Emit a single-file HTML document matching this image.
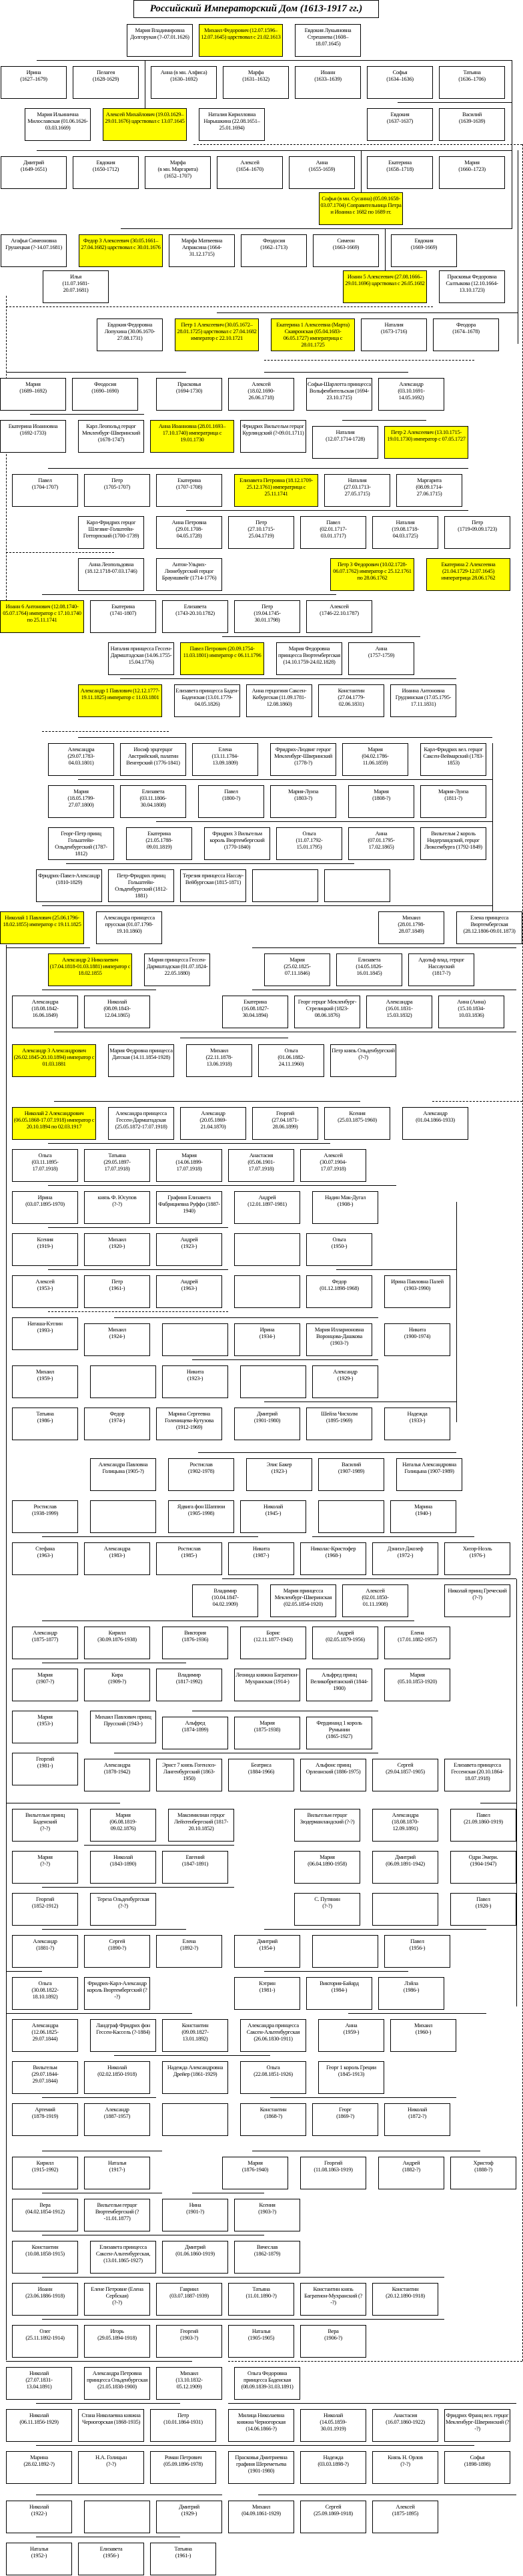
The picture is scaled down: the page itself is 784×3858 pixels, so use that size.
<!DOCTYPE html>
<html><head><meta charset="utf-8">
<style>
html,body{margin:0;padding:0;background:#fff}
body{position:relative;width:784px;height:3858px;overflow:hidden}
.b{position:absolute;width:99px;height:49px;border:1px solid #000;box-sizing:border-box;background:#fff;font:8.5px/10px "Liberation Serif","DejaVu Serif",serif;text-align:center;padding:3px 1px 0;overflow:hidden;letter-spacing:-0.3px;z-index:2}
.y{background:#ff0;width:126px}
.h{position:absolute;height:0;border-top:1px solid #000;z-index:1}
.v{position:absolute;width:0;border-left:1px solid #000;z-index:1}
.hd{position:absolute;height:0;border-top:1px dashed #000;z-index:1}
.vd{position:absolute;width:0;border-left:1px dashed #000;z-index:1}
.t{position:absolute;left:200px;top:0;width:368px;height:27px;border:1px solid #000;box-sizing:border-box;font:italic bold 15px/25px "Liberation Serif",serif;text-align:center}
</style></head><body>
<div class="t">Российский Императорский Дом (1613-1917 гг.)</div>

<!-- long lines -->
<div class="v" style="left:9px;top:1415px;height:2120px"></div>
<div class="vd" style="left:783px;top:216px;height:3320px"></div>
<div class="v" style="left:767px;top:90px;height:253px"></div>
<div class="v" style="left:776px;top:225px;height:290px"></div>
<div class="v" style="left:738px;top:1113px;height:280px"></div>
<div class="v" style="left:774px;top:2365px;height:640px"></div>
<div class="v" style="left:684px;top:1800px;height:330px"></div>
<div class="vd" style="left:9px;top:443px;height:140px"></div>
<div class="vd" style="left:9px;top:660px;height:240px"></div>

<!-- sibling lines -->
<div class="h" style="left:55px;top:90px;width:712px"></div>
<div class="h" style="left:596px;top:153px;width:171px"></div>
<div class="v" style="left:217px;top:90px;height:72px"></div>
<div class="hd" style="left:290px;top:216px;width:493px"></div>
<div class="h" style="left:55px;top:225px;width:712px"></div>
<div class="v" style="left:541px;top:225px;height:63px"></div>
<div class="h" style="left:181px;top:342px;width:586px"></div>
<div class="v" style="left:577px;top:342px;height:63px"></div>
<div class="hd" style="left:9px;top:459px;width:640px"></div>
<div class="h" style="left:325px;top:468px;width:451px"></div>
<div class="h" style="left:9px;top:557px;width:270px"></div>
<div class="h" style="left:396px;top:557px;width:216px"></div>
<div class="h" style="left:45px;top:620px;width:171px"></div>
<div class="h" style="left:513px;top:629px;width:126px"></div>
<div class="hd" style="left:396px;top:539px;width:315px"></div>
<div class="h" style="left:72px;top:701px;width:630px"></div>
<div class="h" style="left:279px;top:764px;width:423px"></div>
<div class="hd" style="left:9px;top:827px;width:162px"></div>
<div class="h" style="left:63px;top:890px;width:441px"></div>
<div class="h" style="left:333px;top:953px;width:297px"></div>
<div class="h" style="left:180px;top:1016px;width:504px"></div>
<div class="h" style="left:117px;top:1104px;width:621px"></div>
<div class="hd" style="left:63px;top:1095px;width:190px"></div>
<div class="h" style="left:117px;top:1167px;width:621px"></div>
<div class="h" style="left:234px;top:1230px;width:504px"></div>
<div class="h" style="left:99px;top:1293px;width:432px"></div>
<div class="h" style="left:63px;top:1356px;width:675px"></div>
<div class="h" style="left:9px;top:1419px;width:126px"></div>
<div class="h" style="left:378px;top:1419px;width:396px"></div>
<div class="h" style="left:63px;top:1482px;width:171px"></div>
<div class="h" style="left:378px;top:1482px;width:396px"></div>
<div class="h" style="left:81px;top:1545px;width:693px"></div>
<div class="h" style="left:270px;top:1554px;width:162px"></div>
<div class="h" style="left:81px;top:1649px;width:459px"></div>
<div class="hd" style="left:648px;top:1649px;width:135px"></div>
<div class="h" style="left:72px;top:1712px;width:423px"></div>
<div class="h" style="left:72px;top:1775px;width:522px"></div>
<div class="h" style="left:72px;top:1838px;width:270px"></div>
<div class="h" style="left:72px;top:1901px;width:270px"></div>
<div class="h" style="left:504px;top:1901px;width:180px"></div>
<div class="hd" style="left:72px;top:1964px;width:270px"></div>
<div class="h" style="left:171px;top:1973px;width:396px"></div>
<div class="h" style="left:288px;top:2036px;width:279px"></div>
<div class="h" style="left:396px;top:2099px;width:288px"></div>
<div class="h" style="left:297px;top:2175px;width:387px"></div>
<div class="h" style="left:63px;top:2301px;width:324px"></div>
<div class="h" style="left:468px;top:2301px;width:243px"></div>
<div class="h" style="left:333px;top:2364px;width:441px"></div>
<div class="h" style="left:63px;top:2427px;width:558px"></div>
<div class="h" style="left:63px;top:2490px;width:216px"></div>
<div class="h" style="left:288px;top:2562px;width:279px"></div>
<div class="h" style="left:171px;top:2625px;width:396px"></div>
<div class="h" style="left:9px;top:2700px;width:171px"></div>
<div class="h" style="left:720px;top:2700px;width:54px"></div>
<div class="h" style="left:126px;top:2763px;width:225px"></div>
<div class="h" style="left:63px;top:2826px;width:288px"></div>
<div class="h" style="left:63px;top:2889px;width:216px"></div>
<div class="h" style="left:396px;top:2889px;width:333px"></div>
<div class="h" style="left:9px;top:2952px;width:54px"></div>
<div class="h" style="left:396px;top:2952px;width:216px"></div>
<div class="h" style="left:9px;top:3015px;width:279px"></div>
<div class="h" style="left:522px;top:3015px;width:207px"></div>
<div class="h" style="left:171px;top:3078px;width:234px"></div>
<div class="h" style="left:63px;top:3141px;width:171px"></div>
<div class="h" style="left:405px;top:3141px;width:279px"></div>
<div class="h" style="left:63px;top:3221px;width:180px"></div>
<div class="h" style="left:378px;top:3221px;width:342px"></div>
<div class="h" style="left:63px;top:3284px;width:180px"></div>
<div class="h" style="left:288px;top:3284px;width:108px"></div>
<div class="h" style="left:63px;top:3347px;width:333px"></div>
<div class="h" style="left:63px;top:3410px;width:603px"></div>
<div class="h" style="left:63px;top:3473px;width:603px"></div>
<div class="h" style="left:9px;top:3536px;width:279px"></div>
<div class="hd" style="left:342px;top:3536px;width:441px"></div>
<div class="h" style="left:54px;top:3599px;width:216px"></div>
<div class="h" style="left:342px;top:3599px;width:432px"></div>
<div class="h" style="left:54px;top:3662px;width:657px"></div>
<div class="h" style="left:54px;top:3736px;width:279px"></div>
<div class="h" style="left:387px;top:3736px;width:387px"></div>
<div class="h" style="left:54px;top:3799px;width:216px"></div>

<!-- boxes -->
<div class="b" style="left:190px;top:36px">Мария Владимировна Долгорукая (?–07.01.1626)</div>
<div class="b y" style="left:298px;top:36px">Михаил Федорович (12.07.1596–12.07.1645) царствовал с 21.02.1613</div>
<div class="b" style="left:442px;top:36px">Евдокия Лукьяновна Стрешнева (1608–18.07.1645)</div>

<div class="b" style="left:1px;top:99px">Ирина<br>(1627–1679)</div>
<div class="b" style="left:109px;top:99px">Пелагея<br>(1628-1629)</div>
<div class="b" style="left:226px;top:99px">Анна (в мн. Алфиса)<br>(1630–1692)</div>
<div class="b" style="left:334px;top:99px">Марфа<br>(1631–1632)</div>
<div class="b" style="left:442px;top:99px">Иоанн<br>(1633–1639)</div>
<div class="b" style="left:550px;top:99px">Софья<br>(1634–1636)</div>
<div class="b" style="left:658px;top:99px">Татьяна<br>(1636–1706)</div>

<div class="b" style="left:37px;top:162px">Мария Ильинична Милославская (01.06.1626-03.03.1669)</div>
<div class="b y" style="left:154px;top:162px">Алексей Михайлович (19.03.1629–29.01.1676) царствовал с 13.07.1645</div>
<div class="b" style="left:298px;top:162px">Наталия Кирилловна Нарышкина (22.08.1651–25.01.1694)</div>
<div class="b" style="left:550px;top:162px">Евдокия<br>(1637-1637)</div>
<div class="b" style="left:658px;top:162px">Василий<br>(1639-1639)</div>

<div class="b" style="left:1px;top:234px">Дмитрий<br>(1649-1651)</div>
<div class="b" style="left:109px;top:234px">Евдокия<br>(1650-1712)</div>
<div class="b" style="left:217px;top:234px">Марфа<br>(в мн. Маргарита)<br>(1652–1707)</div>
<div class="b" style="left:325px;top:234px">Алексей<br>(1654–1670)</div>
<div class="b" style="left:433px;top:234px">Анна<br>(1655-1659)</div>
<div class="b" style="left:550px;top:234px">Екатерина<br>(1658–1718)</div>
<div class="b" style="left:658px;top:234px">Мария<br>(1660–1723)</div>

<div class="b y" style="left:478px;top:288px">Софья (в мн. Сусанна) (05.09.1658-03.07.1704) Соправительница Петра и Иоанна с 1682 по 1689 гг.</div>

<div class="b" style="left:1px;top:351px">Агафья Симеоновна Грушецкая (?-14.07.1681)</div>
<div class="b y" style="left:118px;top:351px">Федор 3 Алексеевич (30.05.1661–27.04.1682) царствовал с 30.01.1676</div>
<div class="b" style="left:253px;top:351px">Марфа Матвеевна Апраксина (1664-31.12.1715)</div>
<div class="b" style="left:361px;top:351px">Феодосия<br>(1662–1713)</div>
<div class="b" style="left:469px;top:351px">Симеон<br>(1663-1669)</div>
<div class="b" style="left:586px;top:351px">Евдокия<br>(1669-1669)</div>

<div class="b" style="left:64px;top:405px">Илья<br>(11.07.1681-<br>20.07.1681)</div>
<div class="b y" style="left:514px;top:405px">Иоанн 5 Алексеевич (27.08.1666–29.01.1696) царствовал с 26.05.1682</div>
<div class="b" style="left:658px;top:405px">Прасковья Федоровна Салтыкова (12.10.1664-13.10.1723)</div>

<div class="b" style="left:145px;top:477px">Евдокия Федоровна Лопухина (30.06.1670-27.08.1731)</div>
<div class="b y" style="left:262px;top:477px">Петр 1 Алексеевич (30.05.1672–28.01.1725) царствовал с 27.04.1682 император с 22.10.1721</div>
<div class="b y" style="left:406px;top:477px">Екатерина 1 Алексеевна (Марта) Скавронская (05.04.1683-06.05.1727) императрица с 28.01.1725</div>
<div class="b" style="left:541px;top:477px">Наталия<br>(1673-1716)</div>
<div class="b" style="left:649px;top:477px">Феодора<br>(1674–1678)</div>

<div class="b" style="left:0px;top:566px">Мария<br>(1689–1692)</div>
<div class="b" style="left:108px;top:566px">Феодосия<br>(1690–1690)</div>
<div class="b" style="left:234px;top:566px">Прасковья<br>(1694-1730)</div>
<div class="b" style="left:342px;top:566px">Алексей<br>(18.02.1690-<br>26.06.1718)</div>
<div class="b" style="left:459px;top:566px">Софья-Шарлотта принцесса Вольфенбительская (1694-23.10.1715)</div>
<div class="b" style="left:567px;top:566px">Александр<br>(03.10.1691-<br>14.05.1692)</div>

<div class="b" style="left:0px;top:629px">Екатерина Иоанновна<br>(1692-1733)</div>
<div class="b" style="left:117px;top:629px">Карл Леопольд герцог Мекленбург-Шверинский (1678-1747)</div>
<div class="b y" style="left:225px;top:629px">Анна Иоанновна (28.01.1693–17.10.1740) императрица с 19.01.1730</div>
<div class="b" style="left:360px;top:629px">Фридрих Вильгельм герцог Курляндский (?-09.01.1711)</div>
<div class="b" style="left:468px;top:638px">Наталия<br>(12.07.1714-1728)</div>
<div class="b y" style="left:576px;top:638px">Петр 2 Алексеевич (13.10.1715-19.01.1730) император с 07.05.1727</div>

<div class="b" style="left:18px;top:710px">Павел<br>(1704-1707)</div>
<div class="b" style="left:126px;top:710px">Петр<br>(1705-1707)</div>
<div class="b" style="left:234px;top:710px">Екатерина<br>(1707-1708)</div>
<div class="b y" style="left:351px;top:710px">Елизавета Петровна (18.12.1709-25.12.1761) императрица с 25.11.1741</div>
<div class="b" style="left:486px;top:710px">Наталия<br>(27.03.1713-<br>27.05.1715)</div>
<div class="b" style="left:594px;top:710px">Маргарита<br>(08.09.1714-<br>27.06.1715)</div>

<div class="b" style="left:117px;top:773px">Карл-Фридрих герцог Шлезвиг-Голштейн-Готторпский (1700-1739)</div>
<div class="b" style="left:234px;top:773px">Анна Петровна<br>(29.01.1708-<br>04.05.1728)</div>
<div class="b" style="left:342px;top:773px">Петр<br>(27.10.1715-<br>25.04.1719)</div>
<div class="b" style="left:450px;top:773px">Павел<br>(02.01.1717-<br>03.01.1717)</div>
<div class="b" style="left:558px;top:773px">Наталия<br>(19.08.1718-<br>04.03.1725)</div>
<div class="b" style="left:666px;top:773px">Петр<br>(1719-09.09.1723)</div>

<div class="b" style="left:117px;top:836px">Анна Леопольдовна (18.12.1718-07.03.1746)</div>
<div class="b" style="left:234px;top:836px">Антон-Ульрих-Люнебургский герцог Брауншвейг (1714-1776)</div>
<div class="b y" style="left:495px;top:836px">Петр 3 Федорович (10.02.1728-06.07.1762) император с 25.12.1761 по 28.06.1762</div>
<div class="b y" style="left:639px;top:836px">Екатерина 2 Алексеевна (21.04.1729-12.07.1645) императрица 28.06.1762</div>

<div class="b y" style="left:0px;top:899px">Иоанн 6 Антонович (12.08.1740-05.07.1764) император с 17.10.1740 по 25.11.1741</div>
<div class="b" style="left:135px;top:899px">Екатерина<br>(1741-1807)</div>
<div class="b" style="left:243px;top:899px">Елизавета<br>(1743-20.10.1782)</div>
<div class="b" style="left:351px;top:899px">Петр<br>(19.04.1745-<br>30.01.1798)</div>
<div class="b" style="left:459px;top:899px">Алексей<br>(1746-22.10.1787)</div>

<div class="b" style="left:162px;top:962px">Наталия принцесса Гессен-Дармштадская (14.06.1755-15.04.1776)</div>
<div class="b y" style="left:270px;top:962px">Павел Петрович (20.09.1754-11.03.1801) император с 06.11.1796</div>
<div class="b" style="left:414px;top:962px">Мария Федоровна принцесса Вюртембергская (14.10.1759-24.02.1828)</div>
<div class="b" style="left:522px;top:962px">Анна<br>(1757-1759)</div>

<div class="b y" style="left:117px;top:1025px">Александр 1 Павлович (12.12.1777-19.11.1825) император с 11.03.1801</div>
<div class="b" style="left:261px;top:1025px">Елизавета принцесса Баден-Баденская (13.01.1779-04.05.1826)</div>
<div class="b" style="left:369px;top:1025px">Анна герцогиня Саксен-Кобургская (11.09.1781-12.08.1860)</div>
<div class="b" style="left:477px;top:1025px">Константин<br>(27.04.1779-<br>02.06.1831)</div>
<div class="b" style="left:585px;top:1025px">Иоанна Антоновна Грудзинская (17.05.1795-17.11.1831)</div>

<div class="b" style="left:72px;top:1113px">Александра<br>(29.07.1783-<br>04.03.1801)</div>
<div class="b" style="left:180px;top:1113px">Иосиф эрцгерцог Австрийский, палатин Венгерский (1776-1841)</div>
<div class="b" style="left:288px;top:1113px">Елена<br>(13.11.1784-<br>13.09.1809)</div>
<div class="b" style="left:405px;top:1113px">Фридрих-Людвиг герцог Мекленбург-Шверинский (1778-?)</div>
<div class="b" style="left:513px;top:1113px">Мария<br>(04.02.1786-<br>11.06.1859)</div>
<div class="b" style="left:630px;top:1113px">Карл-Фридрих вел. герцог Саксен-Веймарский (1783-1853)</div>

<div class="b" style="left:72px;top:1176px">Мария<br>(18.05.1799-<br>27.07.1800)</div>
<div class="b" style="left:180px;top:1176px">Елизавета<br>(03.11.1806-<br>30.04.1808)</div>
<div class="b" style="left:297px;top:1176px">Павел<br>(1800-?)</div>
<div class="b" style="left:405px;top:1176px">Мария-Луиза<br>(1803-?)</div>
<div class="b" style="left:522px;top:1176px">Мария<br>(1808-?)</div>
<div class="b" style="left:630px;top:1176px">Мария-Луиза<br>(1811-?)</div>

<div class="b" style="left:72px;top:1239px">Георг-Петр принц Гольштейн-Ольденбургский (1787-1812)</div>
<div class="b" style="left:189px;top:1239px">Екатерина<br>(21.05.1788-<br>09.01.1819)</div>
<div class="b" style="left:306px;top:1239px">Фридрих 3 Вильгельм король Вюртембергский (1770-1840)</div>
<div class="b" style="left:414px;top:1239px">Ольга<br>(11.07.1792-<br>15.01.1795)</div>
<div class="b" style="left:522px;top:1239px">Анна<br>(07.01.1795-<br>17.02.1865)</div>
<div class="b" style="left:630px;top:1239px">Вильгельм 2 король Нидерландский, герцог Люксембурга (1792-1849)</div>

<div class="b" style="left:54px;top:1302px">Фридрих-Павел-Александр<br>(1810-1829)</div>
<div class="b" style="left:162px;top:1302px">Петр-Фридрих принц Гольштейн-Ольденбургский (1812-1881)</div>
<div class="b" style="left:270px;top:1302px">Терезия принцесса Нассау-Вейбургская (1815-1871)</div>
<div class="b" style="left:378px;top:1302px"></div>
<div class="b" style="left:486px;top:1302px"></div>

<div class="b y" style="left:0px;top:1365px">Николай 1 Павлович (25.06.1796-18.02.1855) император с 19.11.1825</div>
<div class="b" style="left:144px;top:1365px">Александра принцесса прусская (01.07.1798-19.10.1860)</div>
<div class="b" style="left:567px;top:1365px">Михаил<br>(28.01.1798-<br>28.07.1849)</div>
<div class="b" style="left:684px;top:1365px">Елена принцесса Вюртембергская (28.12.1806-09.01.1873)</div>

<div class="b y" style="left:72px;top:1428px">Александр 2 Николаевич (17.04.1818-01.03.1881) император с 18.02.1855</div>
<div class="b" style="left:216px;top:1428px">Мария принцесса Гессен-Дармштадская (01.07.1824-22.05.1880)</div>
<div class="b" style="left:396px;top:1428px">Мария<br>(25.02.1825-<br>07.11.1846)</div>
<div class="b" style="left:504px;top:1428px">Елизавета<br>(14.05.1826-<br>16.01.1845)</div>
<div class="b" style="left:612px;top:1428px">Адольф влад. герцог Нассауский<br>(1817-?)</div>

<div class="b" style="left:18px;top:1491px">Александра<br>(18.08.1842-<br>16.06.1849)</div>
<div class="b" style="left:126px;top:1491px">Николай<br>(08.09.1843-<br>12.04.1865)</div>
<div class="b" style="left:333px;top:1491px">Екатерина<br>(16.08.1827-<br>30.04.1894)</div>
<div class="b" style="left:441px;top:1491px">Георг герцог Мекленбург-Стрелицкий (1823-08.06.1876)</div>
<div class="b" style="left:549px;top:1491px">Александра<br>(16.01.1831-<br>15.03.1832)</div>
<div class="b" style="left:657px;top:1491px">Анна (Анна)<br>(15.10.1834-<br>10.03.1836)</div>

<div class="b y" style="left:18px;top:1564px">Александр 3 Александрович (26.02.1845-20.10.1894) император с 01.03.1881</div>
<div class="b" style="left:162px;top:1564px">Мария Федровна принцесса Датская (14.11.1854-1928)</div>
<div class="b" style="left:279px;top:1564px">Михаил<br>(22.11.1878-<br>13.06.1918)</div>
<div class="b" style="left:387px;top:1564px">Ольга<br>(01.06.1882-<br>24.11.1960)</div>
<div class="b" style="left:495px;top:1564px">Петр князь Ольденбургский<br>(?-?)</div>

<div class="b y" style="left:18px;top:1658px">Николай 2 Александрович (06.05.1868-17.07.1918) император с 20.10.1894 по 02.03.1917</div>
<div class="b" style="left:162px;top:1658px">Александра принцесса Гессен-Дармштадская (25.05.1872-17.07.1918)</div>
<div class="b" style="left:270px;top:1658px">Александр<br>(20.05.1869-<br>21.04.1870)</div>
<div class="b" style="left:378px;top:1658px">Георгий<br>(27.04.1871-<br>28.06.1899)</div>
<div class="b" style="left:486px;top:1658px">Ксения<br>(25.03.1875-1960)</div>
<div class="b" style="left:603px;top:1658px">Александр<br>(01.04.1866-1933)</div>

<div class="b" style="left:18px;top:1721px">Ольга<br>(03.11.1895-<br>17.07.1918)</div>
<div class="b" style="left:126px;top:1721px">Татьяна<br>(29.05.1897-<br>17.07.1918)</div>
<div class="b" style="left:234px;top:1721px">Мария<br>(14.06.1899-<br>17.07.1918)</div>
<div class="b" style="left:342px;top:1721px">Анастасия<br>(05.06.1901-<br>17.07.1918)</div>
<div class="b" style="left:450px;top:1721px">Алексей<br>(30.07.1904-<br>17.07.1918)</div>

<div class="b" style="left:18px;top:1784px">Ирина<br>(03.07.1895-1970)</div>
<div class="b" style="left:126px;top:1784px">князь Ф. Юсупов<br>(?-?)</div>
<div class="b" style="left:234px;top:1784px">Графиня Елизавета Фабрициевна Руффо (1887-1940)</div>
<div class="b" style="left:351px;top:1784px">Андрей<br>(12.01.1897-1981)</div>
<div class="b" style="left:468px;top:1784px">Надин Мак-Дугал<br>(1908-)</div>

<div class="b" style="left:18px;top:1847px">Ксения<br>(1919-)</div>
<div class="b" style="left:126px;top:1847px">Михаил<br>(1920-)</div>
<div class="b" style="left:234px;top:1847px">Андрей<br>(1923-)</div>
<div class="b" style="left:351px;top:1847px"></div>
<div class="b" style="left:459px;top:1847px">Ольга<br>(1950-)</div>

<div class="b" style="left:18px;top:1910px">Алексей<br>(1953-)</div>
<div class="b" style="left:126px;top:1910px">Петр<br>(1961-)</div>
<div class="b" style="left:234px;top:1910px">Андрей<br>(1963-)</div>
<div class="b" style="left:351px;top:1910px"></div>
<div class="b" style="left:459px;top:1910px">Федор<br>(01.12.1898-1968)</div>
<div class="b" style="left:576px;top:1910px">Ирина Павловна Палей<br>(1903-1990)</div>

<div class="b" style="left:18px;top:1973px">Наташа-Кэтлин<br>(1993-)</div>
<div class="b" style="left:126px;top:1982px">Михаил<br>(1924-)</div>
<div class="b" style="left:243px;top:1982px"></div>
<div class="b" style="left:351px;top:1982px">Ирина<br>(1934-)</div>
<div class="b" style="left:459px;top:1982px">Мария Илларионовна Воронцова-Дашкова (1903-?)</div>
<div class="b" style="left:576px;top:1982px">Никита<br>(1900-1974)</div>

<div class="b" style="left:18px;top:2045px">Михаил<br>(1959-)</div>
<div class="b" style="left:135px;top:2045px"></div>
<div class="b" style="left:243px;top:2045px">Никита<br>(1923-)</div>
<div class="b" style="left:360px;top:2045px"></div>
<div class="b" style="left:468px;top:2045px">Александр<br>(1929-)</div>

<div class="b" style="left:18px;top:2108px">Татьяна<br>(1986-)</div>
<div class="b" style="left:126px;top:2108px">Федор<br>(1974-)</div>
<div class="b" style="left:234px;top:2108px">Марина Сергеевна Голенищева-Кутузова (1912-1969)</div>
<div class="b" style="left:351px;top:2108px">Дмитрий<br>(1901-1980)</div>
<div class="b" style="left:459px;top:2108px">Шейла Чисхолм<br>(1895-1969)</div>
<div class="b" style="left:576px;top:2108px">Надежда<br>(1933-)</div>

<div class="b" style="left:135px;top:2184px">Александра Павловна Голицына (1905-?)</div>
<div class="b" style="left:252px;top:2184px">Ростислав<br>(1902-1978)</div>
<div class="b" style="left:369px;top:2184px">Элис Бакер<br>(1923-)</div>
<div class="b" style="left:477px;top:2184px">Василий<br>(1907-1989)</div>
<div class="b" style="left:594px;top:2184px">Наталья Александровна Голицына (1907-1989)</div>

<div class="b" style="left:18px;top:2247px">Ростислав<br>(1938-1999)</div>
<div class="b" style="left:135px;top:2247px"></div>
<div class="b" style="left:252px;top:2247px">Ядвига фон Шаппюи<br>(1905-1998)</div>
<div class="b" style="left:360px;top:2247px">Николай<br>(1945-)</div>
<div class="b" style="left:477px;top:2247px"></div>
<div class="b" style="left:585px;top:2247px">Марина<br>(1940-)</div>

<div class="b" style="left:18px;top:2310px">Стефана<br>(1963-)</div>
<div class="b" style="left:126px;top:2310px">Александра<br>(1983-)</div>
<div class="b" style="left:234px;top:2310px">Ростислав<br>(1985-)</div>
<div class="b" style="left:342px;top:2310px">Никита<br>(1987-)</div>
<div class="b" style="left:450px;top:2310px">Николас-Кристофер<br>(1968-)</div>
<div class="b" style="left:558px;top:2310px">Дэниэл-Джозеф<br>(1972-)</div>
<div class="b" style="left:666px;top:2310px">Хизэр-Ноэль<br>(1976-)</div>

<div class="b" style="left:288px;top:2373px">Владимир<br>(10.04.1847-<br>04.02.1909)</div>
<div class="b" style="left:405px;top:2373px">Мария принцесса Мекленбург-Шверинская (02.05.1854-1920)</div>
<div class="b" style="left:513px;top:2373px">Алексей<br>(02.01.1850-<br>01.11.1908)</div>
<div class="b" style="left:666px;top:2373px">Николай принц Греческий<br>(?-?)</div>

<div class="b" style="left:18px;top:2436px">Александр<br>(1875-1877)</div>
<div class="b" style="left:126px;top:2436px">Кирилл<br>(30.09.1876-1938)</div>
<div class="b" style="left:243px;top:2436px">Виктория<br>(1876-1936)</div>
<div class="b" style="left:360px;top:2436px">Борис<br>(12.11.1877-1943)</div>
<div class="b" style="left:468px;top:2436px">Андрей<br>(02.05.1879-1956)</div>
<div class="b" style="left:576px;top:2436px">Елена<br>(17.01.1882-1957)</div>

<div class="b" style="left:18px;top:2499px">Мария<br>(1907-?)</div>
<div class="b" style="left:126px;top:2499px">Кира<br>(1909-?)</div>
<div class="b" style="left:234px;top:2499px">Владимир<br>(1817-1992)</div>
<div class="b" style="left:351px;top:2499px">Леонида княжна Багратион-Мухранская (1914-)</div>
<div class="b" style="left:459px;top:2499px">Альфред принц Великобританский (1844-1900)</div>
<div class="b" style="left:576px;top:2499px">Мария<br>(05.10.1853-1920)</div>

<div class="b" style="left:18px;top:2562px">Мария<br>(1953-)</div>
<div class="b" style="left:135px;top:2562px">Михаил Павлович принц Прусский (1943-)</div>
<div class="b" style="left:243px;top:2571px">Альфред<br>(1874-1899)</div>
<div class="b" style="left:351px;top:2571px">Мария<br>(1875-1938)</div>
<div class="b" style="left:459px;top:2571px">Фердинанд 1 король Румынии<br>(1865-1927)</div>

<div class="b" style="left:18px;top:2625px">Георгий<br>(1981-)</div>
<div class="b" style="left:126px;top:2634px">Александра<br>(1878-1942)</div>
<div class="b" style="left:234px;top:2634px">Эрнст 7 князь Гогенлоэ-Лангенбургский (1863-1950)</div>
<div class="b" style="left:342px;top:2634px">Беатриса<br>(1884-1966)</div>
<div class="b" style="left:450px;top:2634px">Альфонс принц Орлеанский (1886-1975)</div>
<div class="b" style="left:558px;top:2634px">Сергей<br>(29.04.1857-1905)</div>
<div class="b" style="left:666px;top:2634px">Елизавета принцесса Гессенская (20.10.1864-18.07.1918)</div>

<div class="b" style="left:18px;top:2709px">Вильгельм принц Баденский<br>(?-?)</div>
<div class="b" style="left:135px;top:2709px">Мария<br>(06.08.1819-<br>09.02.1876)</div>
<div class="b" style="left:252px;top:2709px">Максимилиан герцог Лейхтенбергский (1817-20.10.1852)</div>
<div class="b" style="left:441px;top:2709px">Вильгельм герцог Зюдерманландский (?-?)</div>
<div class="b" style="left:558px;top:2709px">Александра<br>(18.08.1870-<br>12.09.1891)</div>
<div class="b" style="left:675px;top:2709px">Павел<br>(21.09.1860-1919)</div>

<div class="b" style="left:18px;top:2772px">Мария<br>(?-?)</div>
<div class="b" style="left:135px;top:2772px">Николай<br>(1843-1890)</div>
<div class="b" style="left:243px;top:2772px">Евгений<br>(1847-1891)</div>
<div class="b" style="left:441px;top:2772px">Мария<br>(06.04.1890-1958)</div>
<div class="b" style="left:558px;top:2772px">Дмитрий<br>(06.09.1891-1942)</div>
<div class="b" style="left:675px;top:2772px">Одри Эмери.<br>(1904-1947)</div>

<div class="b" style="left:18px;top:2835px">Георгий<br>(1852-1912)</div>
<div class="b" style="left:135px;top:2835px">Тереза Ольденбургская<br>(?-?)</div>
<div class="b" style="left:441px;top:2835px">С. Путянин<br>(?-?)</div>
<div class="b" style="left:558px;top:2835px"></div>
<div class="b" style="left:675px;top:2835px">Павел<br>(1928-)</div>

<div class="b" style="left:18px;top:2898px">Александр<br>(1881-?)</div>
<div class="b" style="left:126px;top:2898px">Сергей<br>(1890-?)</div>
<div class="b" style="left:234px;top:2898px">Елена<br>(1892-?)</div>
<div class="b" style="left:351px;top:2898px">Дмитрий<br>(1954-)</div>
<div class="b" style="left:468px;top:2898px"></div>
<div class="b" style="left:576px;top:2898px">Павел<br>(1956-)</div>

<div class="b" style="left:18px;top:2961px">Ольга<br>(30.08.1822-<br>18.10.1892)</div>
<div class="b" style="left:126px;top:2961px">Фридрих-Карл-Александр король Вюртембергский (?-?)</div>
<div class="b" style="left:351px;top:2961px">Кэтрин<br>(1981-)</div>
<div class="b" style="left:459px;top:2961px">Виктория-Байард<br>(1984-)</div>
<div class="b" style="left:567px;top:2961px">Лэйла<br>(1986-)</div>

<div class="b" style="left:18px;top:3024px">Александра<br>(12.06.1825-<br>29.07.1844)</div>
<div class="b" style="left:135px;top:3024px">Ландграф Фридрих фон Гессен-Кассель (?-1884)</div>
<div class="b" style="left:243px;top:3024px">Константин<br>(09.09.1827-<br>13.01.1892)</div>
<div class="b" style="left:360px;top:3024px">Александра принцесса Саксен-Альтенбургская (26.06.1830-1911)</div>
<div class="b" style="left:477px;top:3024px">Анна<br>(1959-)</div>
<div class="b" style="left:585px;top:3024px">Михаил<br>(1960-)</div>

<div class="b" style="left:18px;top:3087px">Вильгельм<br>(29.07.1844-<br>29.07.1844)</div>
<div class="b" style="left:126px;top:3087px">Николай<br>(02.02.1850-1918)</div>
<div class="b" style="left:243px;top:3087px">Надежда Александровна Дрейер (1861-1929)</div>
<div class="b" style="left:360px;top:3087px">Ольга<br>(22.08.1851-1926)</div>
<div class="b" style="left:477px;top:3087px">Георг 1 король Греции<br>(1845-1913)</div>

<div class="b" style="left:18px;top:3150px">Артемий<br>(1878-1919)</div>
<div class="b" style="left:126px;top:3150px">Александр<br>(1887-1957)</div>
<div class="b" style="left:243px;top:3150px"></div>
<div class="b" style="left:360px;top:3150px">Константин<br>(1868-?)</div>
<div class="b" style="left:468px;top:3150px">Георг<br>(1869-?)</div>
<div class="b" style="left:576px;top:3150px">Николай<br>(1872-?)</div>

<div class="b" style="left:18px;top:3230px">Кирилл<br>(1915-1992)</div>
<div class="b" style="left:126px;top:3230px">Наталья<br>(1917-)</div>
<div class="b" style="left:333px;top:3230px">Мария<br>(1876-1940)</div>
<div class="b" style="left:450px;top:3230px">Георгий<br>(11.08.1863-1919)</div>
<div class="b" style="left:567px;top:3230px">Андрей<br>(1882-?)</div>
<div class="b" style="left:675px;top:3230px">Христоф<br>(1888-?)</div>

<div class="b" style="left:18px;top:3293px">Вера<br>(04.02.1854-1912)</div>
<div class="b" style="left:126px;top:3293px">Вильгельм герцог Вюртембергский (?-11.01.1877)</div>
<div class="b" style="left:243px;top:3293px">Нина<br>(1901-?)</div>
<div class="b" style="left:351px;top:3293px">Ксения<br>(1903-?)</div>

<div class="b" style="left:18px;top:3356px">Константин<br>(10.08.1858-1915)</div>
<div class="b" style="left:135px;top:3356px">Елизавета принцесса Саксен-Альтенбургская, (13.01.1865-1927)</div>
<div class="b" style="left:243px;top:3356px">Дмитрий<br>(01.06.1860-1919)</div>
<div class="b" style="left:351px;top:3356px">Вячеслав<br>(1862-1879)</div>

<div class="b" style="left:18px;top:3419px">Иоанн<br>(23.06.1886-1918)</div>
<div class="b" style="left:126px;top:3419px">Елене Петровне (Елена Сербская)<br>(?-?)</div>
<div class="b" style="left:234px;top:3419px">Гавриил<br>(03.07.1887-1939)</div>
<div class="b" style="left:342px;top:3419px">Татьяна<br>(11.01.1890-?)</div>
<div class="b" style="left:450px;top:3419px">Константин князь Багратион-Мухранский (?-?)</div>
<div class="b" style="left:558px;top:3419px">Константин<br>(20.12.1890-1918)</div>

<div class="b" style="left:18px;top:3482px">Олег<br>(25.11.1892-1914)</div>
<div class="b" style="left:126px;top:3482px">Игорь<br>(29.05.1894-1918)</div>
<div class="b" style="left:234px;top:3482px">Георгий<br>(1903-?)</div>
<div class="b" style="left:342px;top:3482px">Наталья<br>(1905-1905)</div>
<div class="b" style="left:450px;top:3482px">Вера<br>(1906-?)</div>

<div class="b" style="left:9px;top:3545px">Николай<br>(27.07.1831-<br>13.04.1891)</div>
<div class="b" style="left:126px;top:3545px">Александра Петровна принцесса Ольденбургская (21.05.1838-1900)</div>
<div class="b" style="left:234px;top:3545px">Михаил<br>(13.10.1832-<br>05.12.1909)</div>
<div class="b" style="left:351px;top:3545px">Ольга Федоровна принцесса Баденская (08.09.1839-31.03.1891)</div>

<div class="b" style="left:9px;top:3608px">Николай<br>(06.11.1856-1929)</div>
<div class="b" style="left:117px;top:3608px">Стана Николаевна княжна Черногорская (1868-1935)</div>
<div class="b" style="left:225px;top:3608px">Петр<br>(10.01.1864-1931)</div>
<div class="b" style="left:342px;top:3608px">Милица Николаевна княжна Черногорская (14.06.1866-?)</div>
<div class="b" style="left:450px;top:3608px">Николай<br>(14.05.1859-<br>30.01.1919)</div>
<div class="b" style="left:558px;top:3608px">Анастасия<br>(16.07.1860-1922)</div>
<div class="b" style="left:666px;top:3608px">Фридрих Франц вел. герцог Мекленбург-Шверинский (?-?)</div>

<div class="b" style="left:9px;top:3671px">Марина<br>(28.02.1892-?)</div>
<div class="b" style="left:117px;top:3671px">Н.А. Голицын<br>(?-?)</div>
<div class="b" style="left:225px;top:3671px">Роман Петрович<br>(05.09.1896-1978)</div>
<div class="b" style="left:342px;top:3671px">Прасковья Дмитриевна графиня Шереметьева (1901-1980)</div>
<div class="b" style="left:450px;top:3671px">Надежда<br>(03.03.1898-?)</div>
<div class="b" style="left:558px;top:3671px">Князь Н. Орлов<br>(?-?)</div>
<div class="b" style="left:666px;top:3671px">Софья<br>(1898-1898)</div>

<div class="b" style="left:9px;top:3745px">Николай<br>(1922-)</div>
<div class="b" style="left:126px;top:3745px"></div>
<div class="b" style="left:234px;top:3745px">Дмитрий<br>(1929-)</div>
<div class="b" style="left:342px;top:3745px">Михаил<br>(04.09.1861-1929)</div>
<div class="b" style="left:450px;top:3745px">Сергей<br>(25.09.1869-1918)</div>
<div class="b" style="left:558px;top:3745px">Алексей<br>(1875-1895)</div>

<div class="b" style="left:9px;top:3808px">Наталья<br>(1952-)</div>
<div class="b" style="left:117px;top:3808px">Елизавета<br>(1956-)</div>
<div class="b" style="left:225px;top:3808px">Татьяна<br>(1961-)</div>
</body></html>
